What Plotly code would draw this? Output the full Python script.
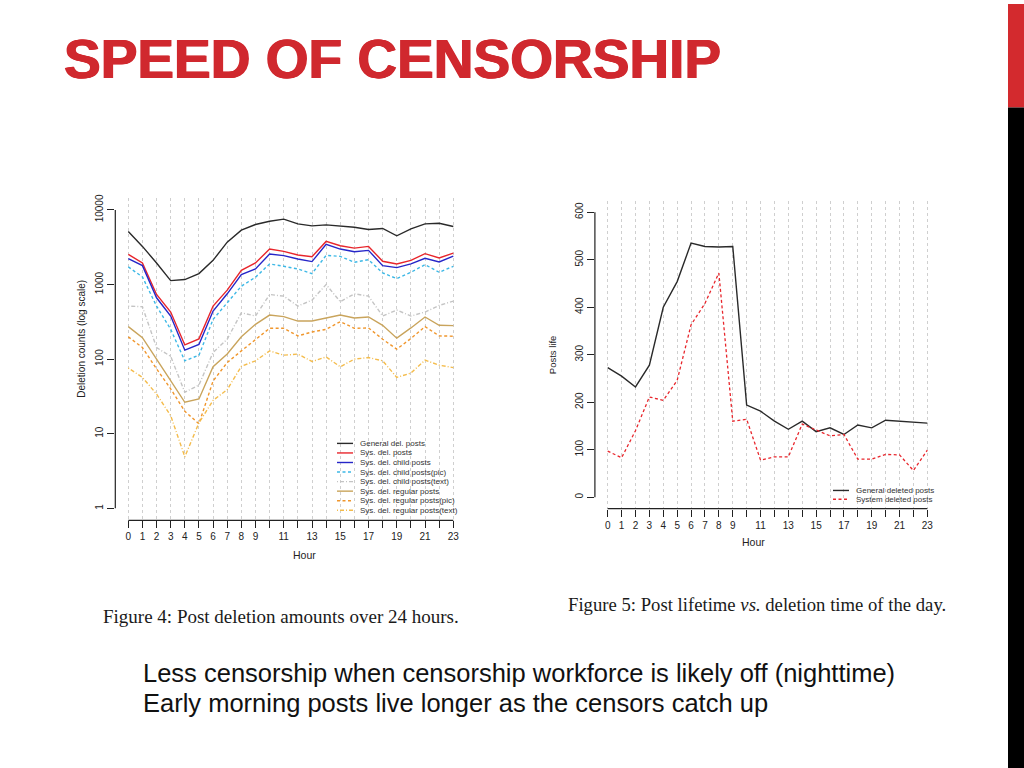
import math
import plotly.graph_objects as go

# ---------------- data ----------------
hours = list(range(24))
hour_ticktext = ["0", "1", "2", "3", "4", "5", "6", "7", "8", "9", "", "11", "",
                 "13", "", "15", "", "17", "", "19", "", "21", "", "23"]

general_del = [5140, 3245, 1945, 1130, 1166, 1400, 2110, 3700, 5350, 6370, 7060, 7520,
               6510, 6120, 6310, 6060, 5870, 5470, 5640, 4500, 5580, 6510, 6640, 5990]
sys_del = [2540, 1945, 735, 428, 155, 187, 514, 840, 1553, 1945, 2990, 2780,
           2490, 2360, 3785, 3310, 3080, 3245, 2050, 1887, 2110, 2590, 2270, 2640]
sys_child = [2220, 1792, 664, 378, 132, 157, 441, 751, 1360, 1618, 2565, 2440,
             2200, 2030, 3450, 2990, 2755, 2870, 1792, 1686, 1887, 2245, 2005, 2410]
child_pic = [1722, 1265, 514, 251, 95, 113, 341, 570, 950, 1253, 1887, 1755,
             1618, 1402, 2460, 2385, 1986, 2155, 1431, 1202, 1460, 1849, 1460, 1755]
child_text = [514, 504, 143, 109, 36, 45, 123, 185, 419, 378, 735, 699,
              514, 618, 1000, 588, 751, 699, 378, 455, 378, 428, 525, 600]
regular = [273, 194, 100, 51, 26.4, 29.3, 79, 117, 200, 293, 390, 371,
           324, 324, 359, 390, 356, 367, 284, 191, 262, 367, 284, 281]
regular_pic = [199, 143, 74, 40, 20, 13.6, 51, 90, 129, 185, 259, 259,
               205, 231, 251, 318, 259, 262, 185, 136, 189, 273, 205, 203]
regular_text = [76, 57, 34, 17.5, 4.9, 14, 28, 39, 80, 95, 129, 113,
                117, 93, 107, 79, 100, 105, 95, 57, 65, 97, 83, 77]

general_life = [273, 255, 232, 278, 400, 454, 535, 528, 527, 528, 194, 181,
                160, 143, 160, 138, 146, 132, 152, 146, 162, 160, 159, 156]
system_life = [97, 83, 140, 211, 204, 246, 363, 408, 472, 160, 164, 78,
               85, 85, 154, 141, 129, 132, 80, 80, 90, 89, 56, 99]

DASH = "3px,2.5px"
DOTDASH = "1px,2px,4px,2px"

left_series = [
    ("General del. posts", general_del, "#2a2a2a", "solid"),
    ("Sys. del. posts", sys_del, "#e8262c", "solid"),
    ("Sys. del. child posts", sys_child, "#2626c8", "solid"),
    ("Sys. del. child posts(pic)", child_pic, "#3cb8e6", DASH),
    ("Sys. del. child posts(text)", child_text, "#c4c4c4", DOTDASH),
    ("Sys. del. regular posts", regular, "#c9a45c", "solid"),
    ("Sys. del. regular posts(pic)", regular_pic, "#f0962c", DASH),
    ("Sys. del. regular posts(text)", regular_text, "#f4bc4c", DOTDASH),
]
right_series = [
    ("General deleted posts", general_life, "#2a2a2a", "solid"),
    ("System deleted posts", system_life, "#e8262c", DASH),
]

log_ticks = [1, 10, 100, 1000, 10000]
life_ticks = [0, 100, 200, 300, 400, 500, 600]

# ---------------- layout geometry (pixels) ----------------
W, H = 1024, 768
L = dict(x0=115.3, x1=466.3, y0=195.0, y1=519.0)   # left plot region
R = dict(x0=594.9, x1=940.1, y0=197.9, y1=507.2)   # right plot region
XR = [-0.92, 23.92]
LYR = [-0.16, 4.16]
RYR = [-24, 624]


def px(x):
    return x / W


def py(y):
    return 1 - y / H


AX = "#222222"
SANS = "Liberation Sans, Arial, sans-serif"
SERIF = "Liberation Serif, Times New Roman, serif"

fig = go.Figure()

for name, vals, col, dash in left_series:
    fig.add_trace(go.Scatter(x=hours, y=vals, mode="lines", name=name,
                             line=dict(color=col, width=1.4, dash=dash),
                             xaxis="x", yaxis="y", showlegend=False))
for name, vals, col, dash in right_series:
    fig.add_trace(go.Scatter(x=hours, y=vals, mode="lines", name=name,
                             line=dict(color=col, width=1.4 if dash == "solid" else 1.3, dash=dash),
                             xaxis="x2", yaxis="y2", showlegend=False))

xcommon = dict(range=XR, tickmode="array", tickvals=hours, ticktext=hour_ticktext,
               showgrid=True, gridcolor="#cfcfcf", griddash="dot", gridwidth=1,
               zeroline=False, showline=False, ticks="outside", ticklen=7,
               tickwidth=1.2, tickcolor=AX,
               tickfont=dict(family=SANS, size=10, color=AX), fixedrange=True)

fig.update_layout(
    width=W, height=H, margin=dict(l=0, r=0, t=0, b=0),
    paper_bgcolor="white", plot_bgcolor="white", showlegend=False,
    xaxis=dict(domain=[px(L["x0"]), px(L["x1"])], anchor="y", **xcommon),
    yaxis=dict(domain=[py(L["y1"]), py(L["y0"])], anchor="x", type="log",
               range=LYR, tickmode="array", tickvals=log_ticks,
               ticktext=[str(v) for v in log_ticks], tickangle=-90,
               showgrid=False, zeroline=False, showline=False,
               ticks="outside", ticklen=7, tickwidth=1.2, tickcolor=AX,
               tickfont=dict(family=SANS, size=10, color=AX)),
    xaxis2=dict(domain=[px(R["x0"]), px(R["x1"])], anchor="y2", **xcommon),
    yaxis2=dict(domain=[py(R["y1"]), py(R["y0"])], anchor="x2",
                range=RYR, tickmode="array", tickvals=life_ticks,
                ticktext=[str(v) for v in life_ticks], tickangle=-90,
                showgrid=False, zeroline=False, showline=False,
                ticks="outside", ticklen=7, tickwidth=1.2, tickcolor=AX,
                tickfont=dict(family=SANS, size=10, color=AX)),
)


def lpy(v):
    # pixel y of a log value in the left plot
    f = (math.log10(v) - LYR[0]) / (LYR[1] - LYR[0])
    return L["y1"] - f * (L["y1"] - L["y0"])


shapes = []
# R-style axis lines spanning only the tick range
shapes.append(dict(type="line", xref="x", yref="paper", x0=0, x1=23,
                   y0=py(L["y1"]), y1=py(L["y1"]), line=dict(color=AX, width=1.2)))
shapes.append(dict(type="line", xref="paper", yref="paper", x0=px(L["x0"]), x1=px(L["x0"]),
                   y0=py(lpy(log_ticks[0])), y1=py(lpy(log_ticks[-1])),
                   line=dict(color=AX, width=1.2)))
shapes.append(dict(type="line", xref="x2", yref="paper", x0=0, x1=23,
                   y0=py(R["y1"]), y1=py(R["y1"]), line=dict(color=AX, width=1.2)))
shapes.append(dict(type="line", xref="paper", yref="y2", x0=px(R["x0"]), x1=px(R["x0"]),
                   y0=life_ticks[0], y1=life_ticks[-1], line=dict(color=AX, width=1.2)))

# side bars of the slide
shapes.append(dict(type="rect", xref="paper", yref="paper", x0=px(1008), x1=1,
                   y0=py(104), y1=1, fillcolor="#d32a2e", line=dict(width=0), layer="above"))
shapes.append(dict(type="rect", xref="paper", yref="paper", x0=px(1008), x1=1,
                   y0=0, y1=py(104), fillcolor="#000000", line=dict(width=0), layer="above"))

annotations = []


# manual legends
def add_legend(entries, lx0, lx1, tx, ty0, dy, size):
    for i, (name, _, col, dash) in enumerate(entries):
        yy = ty0 + i * dy
        shapes.append(dict(type="line", xref="paper", yref="paper",
                           x0=px(lx0), x1=px(lx1), y0=py(yy), y1=py(yy),
                           line=dict(color=col, width=1.4, dash=dash)))
        annotations.append(dict(xref="paper", yref="paper", x=px(tx), y=py(yy),
                                xanchor="left", yanchor="middle", showarrow=False,
                                text=name, font=dict(family=SANS, size=size, color="#333333")))


add_legend(left_series, 337, 353, 358, 441.7, 9.6, 8)
add_legend(right_series, 833, 849, 854, 489, 8.8, 8)

# axis titles
annotations += [
    dict(xref="paper", yref="paper", x=px(290.7), y=py(561.7), text="Hour",
         showarrow=False, font=dict(family=SANS, size=10.5, color=AX)),
    dict(xref="paper", yref="paper", x=px(766.7), y=py(549.3), text="Hour",
         showarrow=False, font=dict(family=SANS, size=10.5, color=AX)),
    dict(xref="paper", yref="paper", x=px(74), y=py(337), text="Deletion counts (log scale)",
         textangle=-90, showarrow=False, font=dict(family=SANS, size=10, color=AX)),
    dict(xref="paper", yref="paper", x=px(552), y=py(353), text="Posts life",
         textangle=-90, showarrow=False, font=dict(family=SANS, size=9.5, color=AX)),
]

# captions
annotations += [
    dict(xref="paper", yref="paper", x=px(101), y=py(616), xanchor="left", yanchor="middle",
         text="Figure 4: Post deletion amounts over 24 hours.", showarrow=False,
         font=dict(family=SERIF, size=19, color="#1a1a1a")),
    dict(xref="paper", yref="paper", x=px(566), y=py(604), xanchor="left", yanchor="middle",
         text="Figure 5: Post lifetime <i>vs.</i> deletion time of the day.", showarrow=False,
         font=dict(family=SERIF, size=18.7, color="#1a1a1a")),
]

# slide title and notes
annotations += [
    dict(xref="paper", yref="paper", x=px(62), y=py(55), xanchor="left", yanchor="middle",
         text="<b>SPEED OF CENSORSHIP</b>", showarrow=False,
         font=dict(family=SANS, size=55, color="#d0282e",
                   shadow="0.7px 0 0 #d0282e, -0.7px 0 0 #d0282e")),
    dict(xref="paper", yref="paper", x=px(141), y=py(672), xanchor="left", yanchor="middle",
         text="Less censorship when censorship workforce is likely off (nighttime)",
         showarrow=False, font=dict(family=SANS, size=25.5, color="#111111")),
    dict(xref="paper", yref="paper", x=px(141), y=py(703), xanchor="left", yanchor="middle",
         text="Early morning posts live longer as the censors catch up",
         showarrow=False, font=dict(family=SANS, size=25.5, color="#111111")),
]

fig.update_layout(shapes=shapes, annotations=annotations)

fig.write_html("out.html", config={"displayModeBar": False},
               post_script="document.body.style.margin='0';")
